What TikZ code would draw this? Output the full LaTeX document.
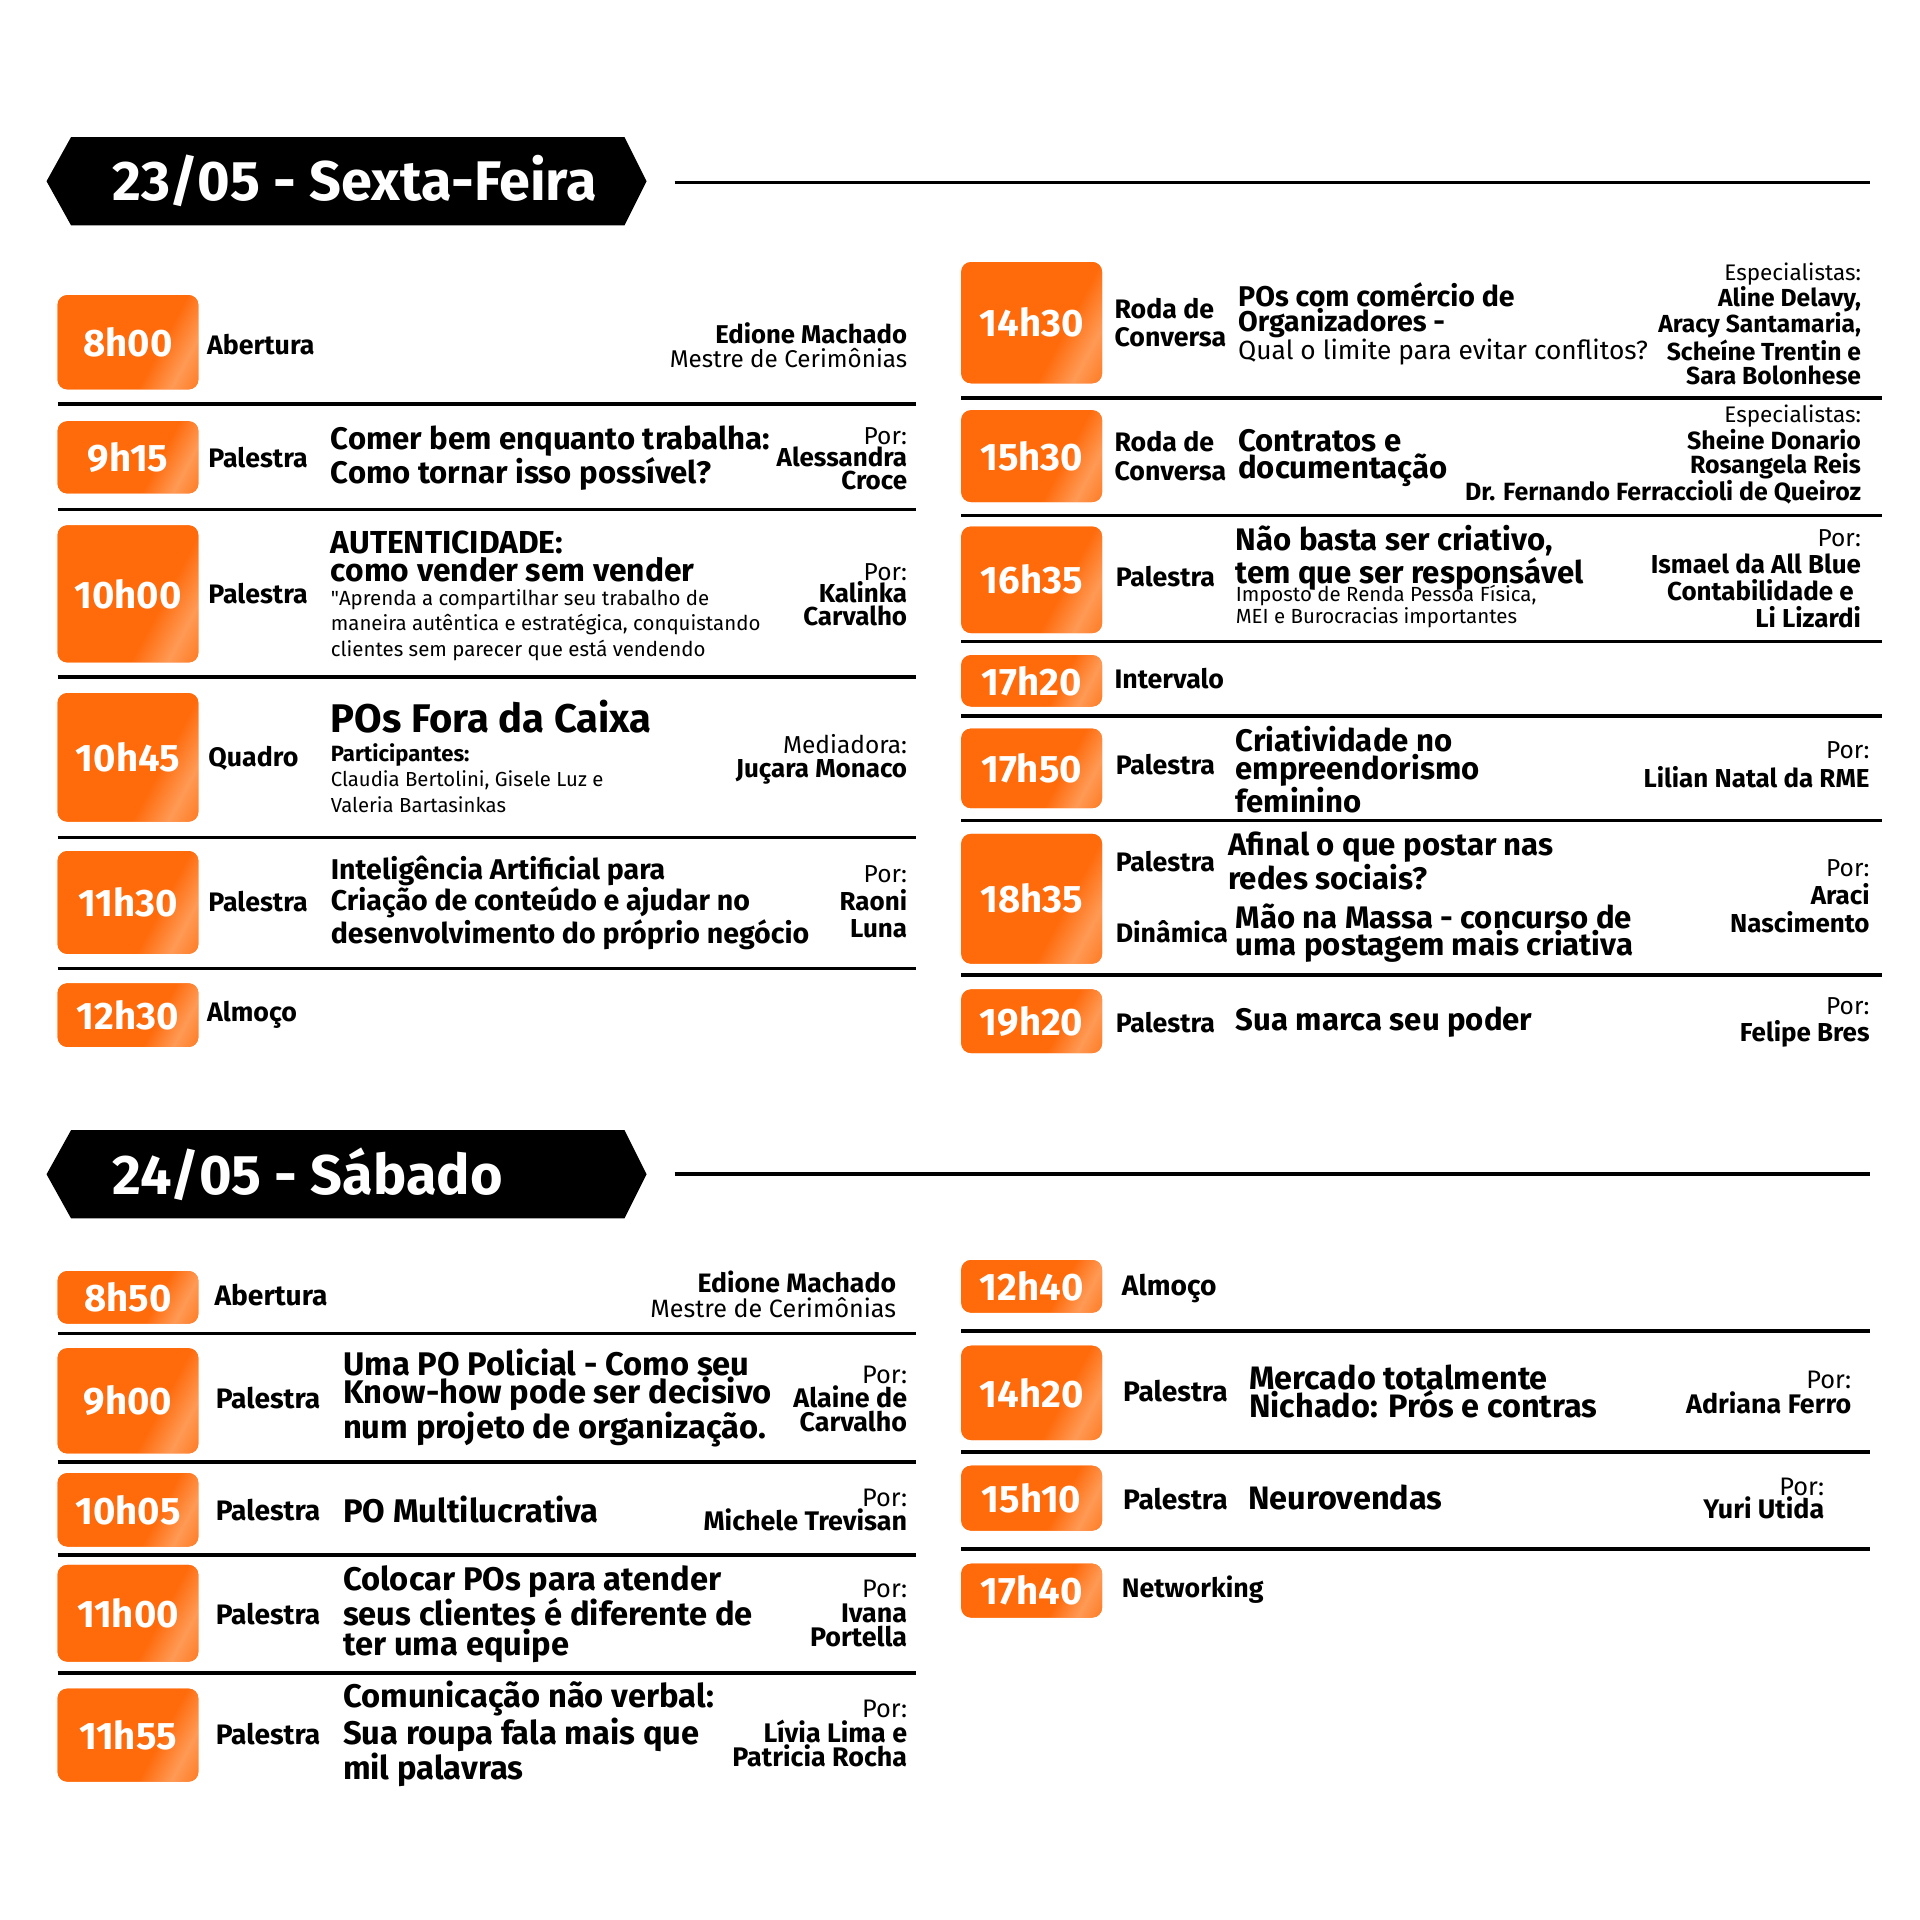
\documentclass[tikz,border=0pt]{standalone}
\usepackage{fontspec}
\setmainfont{Fira Sans}[BoldFeatures={Scale=1.06}]
\newfontfamily\plainfs{Fira Sans}
\definecolor{oA}{HTML}{FF6A0A}
\definecolor{oL}{HTML}{FF9A55}
\definecolor{oB}{HTML}{FF7418}
\pgfdeclarehorizontalshading{band}{100bp}{color(0bp)=(oA); color(62bp)=(oA); color(74bp)=(oL); color(86bp)=(oB); color(100bp)=(oB)}
\newcommand\tb[6]{\node[tbox, minimum width={#4-#2}, minimum height={#5-#3}] (#1) at ({(#2+#4)/2},{(#3+#5)/2}) {#6};}
\begin{document}
\begin{tikzpicture}[x=1pt,y=-1pt,
  tbox/.style={rounded corners=8pt, fill=oA, inner sep=0, text=white,
    font=\bfseries\fontsize{29.5}{29.5}\selectfont,
    path picture={\shade[shading=band, shading angle=-28] (path picture bounding box.south west) rectangle (path picture bounding box.north east);}},
  sep/.style={line width=3pt, black},
  lbl/.style={anchor=west, inner sep=0, align=left, font=\bfseries\fontsize{20.6}{23}\selectfont},
  lbs/.style={anchor=west, inner sep=0, align=left, font=\bfseries\fontsize{21.7}{23}\selectfont},
  ttl/.style={anchor=west, inner sep=0, align=left},
  nm/.style={anchor=east, inner sep=0, align=right},
  bantext/.style={anchor=west, inner sep=0, text=white, font=\bfseries\fontsize{43}{43}\selectfont}
]
\useasboundingbox (0,0) rectangle (1568,1568);
\fill[white] (0,0) rectangle (1568,1568);

% ---------- Friday banner ----------
\fill[black] (38,148) -- (58,112) -- (510,112) -- (528,148) -- (510,184) -- (58,184) -- cycle;
\node[bantext] (ban1) at (92,148) {23/05 - Sexta-Feira};
\draw[sep] (551,149) -- (1527,149);

% ---------- Friday left ----------
\tb{t1}{47}{241}{162}{318}{8h00}
\node[lbl] (l1) at (169,281) {Abertura};
\node[nm, font=\fontsize{19.8}{19}\selectfont] (n1) at (741,282) {\textbf{Edione Machado}\\Mestre de Cerimônias};
\draw[sep] (47,330) -- (748,330);

\tb{t2}{47}{344}{162}{403}{9h15}
\node[lbl] (l2) at (170,374) {Palestra};
\node[ttl, font=\bfseries\fontsize{24}{22}\selectfont] (h2) at (270,374) {Comer bem enquanto trabalha:\\Como tornar isso possível?};
\node[nm, font=\fontsize{20}{18.5}\selectfont] (n2) at (741,374.5) {Por:\\\textbf{Alessandra}\\\textbf{Croce}};
\draw[sep] (47,416) -- (748,416);

\tb{t3}{47}{429}{162}{541}{10h00}
\node[lbl] (l3) at (170,485) {Palestra};
\node[ttl, font=\bfseries\fontsize{24.5}{23}\selectfont] (h3) at (270,454.5) {AUTENTICIDADE:\\como vender sem vender};
\node[ttl, font=\fontsize{16.7}{20.5}\selectfont] (d3) at (270,510.5) {{\plainfs"}Aprenda a compartilhar seu trabalho de\\maneira autêntica e estratégica, conquistando\\clientes sem parecer que está vendendo};
\node[nm, font=\fontsize{20}{18.5}\selectfont] (n3) at (741,485.5) {Por:\\\textbf{Kalinka}\\\textbf{Carvalho}};
\draw[sep] (47,553) -- (748,553);

\tb{t4}{47}{566}{162}{671}{10h45}
\node[lbl] (l4) at (170,619) {Quadro};
\node[ttl, font=\bfseries\fontsize{30.8}{30}\selectfont] (h4) at (270,585) {POs Fora da Caixa};
\node[ttl, font=\fontsize{16.6}{20.5}\selectfont] (d4) at (270,635.5) {{\bfseries\fontsize{17}{20.5}\selectfont Participantes:}\\Claudia Bertolini, Gisele Luz e\\Valeria Bartasinkas};
\node[nm, font=\fontsize{20}{20}\selectfont] (n4) at (741,620) {Mediadora:\\\textbf{Juçara Monaco}};
\draw[sep] (47,684) -- (748,684);

\tb{t5}{47}{695}{162}{779}{11h30}
\node[lbl] (l5) at (170,736) {Palestra};
\node[ttl, font=\bfseries\fontsize{22}{24}\selectfont] (h5) at (270,737) {Inteligência Artificial para\\Criação de conteúdo e ajudar no\\desenvolvimento do próprio negócio};
\node[nm, font=\fontsize{20}{22.5}\selectfont] (n5) at (741,736.5) {Por:\\\textbf{Raoni}\\\textbf{Luna}};
\draw[sep] (47,791) -- (748,791);

\tb{t6}{47}{803}{162}{855}{12h30}
\node[lbl] (l6) at (169,829) {Almoço};

% ---------- Friday right ----------
\tb{t7}{785}{214}{900}{313}{14h30}
\node[lbl] (l7) at (910,263.5) {Roda de\\Conversa};
\node[ttl, font=\bfseries\fontsize{22}{20.5}\selectfont] (h7) at (1011,264.5) {POs com comércio de\\Organizadores -\\{\mdseries\fontsize{21.5}{20.5}\selectfont Qual o limite para evitar conflitos?}};
\node[nm, font=\fontsize{19}{20.2}\selectfont] (n7) at (1520,264.5) {{\fontsize{18.4}{20.2}\selectfont Especialistas:}\\\textbf{Aline Delavy,}\\\textbf{Aracy Santamaria,}\\\textbf{Scheíne Trentin e}\\\textbf{Sara Bolonhese}};
\draw[sep] (785,325) -- (1537,325);

\tb{t8}{785}{335}{900}{410}{15h30}
\node[lbl] (l8) at (910,372.5) {Roda de\\Conversa};
\node[ttl, font=\bfseries\fontsize{24}{22}\selectfont] (h8) at (1011,374) {Contratos e\\documentação};
\node[nm, font=\fontsize{19.2}{20.3}\selectfont] (n8) at (1520,371.5) {{\fontsize{18.4}{20.3}\selectfont Especialistas:}\\\textbf{Sheine Donario}\\\textbf{Rosangela Reis}\\\textbf{Dr. Fernando Ferraccioli de Queiroz}};
\draw[sep] (785,421) -- (1537,421);

\tb{t9}{785}{430}{900}{517}{16h35}
\node[lbl] (l9) at (911,471) {Palestra};
\node[ttl, font=\bfseries\fontsize{24}{22}\selectfont] (h9) at (1009,455.5) {Não basta ser criativo,\\tem que ser responsável};
\node[ttl, font=\fontsize{16.7}{16}\selectfont] (d9) at (1009,495.5) {Imposto de Renda Pessoa Física,\\MEI e Burocracias importantes};
\node[nm, font=\fontsize{20}{22}\selectfont] (n9) at (1520,473) {Por:\\\textbf{Ismael da All Blue}\\\textbf{Contabilidade e}\kern6pt\\\textbf{Li Lizardi}};
\draw[sep] (785,524) -- (1537,524);

\tb{t10}{785}{535}{900}{577}{17h20}
\node[lbl] (l10) at (910,554) {Intervalo};
\draw[sep] (785,585) -- (1537,585);

\tb{t11}{785}{595}{900}{660}{17h50}
\node[lbl] (l11) at (911,624) {Palestra};
\node[ttl, font=\bfseries\fontsize{24}{22.5}\selectfont] (h11) at (1009,628.5) {Criatividade no\\empreendorismo\\feminino};
\node[nm, font=\fontsize{20}{23}\selectfont] (n11) at (1527,624.5) {Por:\\\textbf{Lilian Natal da RME}};
\draw[sep] (785,670) -- (1537,670);

\tb{t12}{785}{681}{900}{787}{18h35}
\node[lbl] (l12a) at (911,704) {Palestra};
\node[lbl] (l12b) at (911,761) {Dinâmica};
\node[ttl, font=\bfseries\fontsize{24}{22}\selectfont] (h12a) at (1003,703) {Afinal o que postar nas\\redes sociais?};
\node[ttl, font=\bfseries\fontsize{24}{22}\selectfont] (h12b) at (1009,762) {Mão na Massa - concurso de\\uma postagem mais criativa};
\node[nm, font=\fontsize{20}{23}\selectfont] (n12) at (1527,732) {Por:\\\textbf{Araci}\\\textbf{Nascimento}};
\draw[sep] (785,796) -- (1537,796);

\tb{t13}{785}{808}{900}{860}{19h20}
\node[lbl] (l13) at (911,835) {Palestra};
\node[ttl, font=\bfseries\fontsize{24}{24}\selectfont] (h13) at (1009,835) {Sua marca seu poder};
\node[nm, font=\fontsize{20}{22}\selectfont] (n13) at (1527,835) {Por:\\\textbf{Felipe Bres}};

% ---------- Saturday banner ----------
\fill[black] (38,959) -- (58,923) -- (510,923) -- (528,959) -- (510,995) -- (58,995) -- cycle;
\node[bantext] (ban2) at (92,959) {24/05 - Sábado};
\draw[sep] (551,959) -- (1527,959);

% ---------- Saturday left ----------
\tb{s1}{47}{1038}{162}{1081}{8h50}
\node[lbs] (m1) at (175,1058) {Abertura};
\node[nm, font=\fontsize{20.5}{20}\selectfont] (p1) at (732,1057) {\textbf{Edione Machado}\\Mestre de Cerimônias};
\draw[sep] (47,1089) -- (748,1089);

\tb{s2}{47}{1101}{162}{1187}{9h00}
\node[lbs] (m2) at (176,1142) {Palestra};
\node[ttl, font=\bfseries\fontsize{25.2}{23}\selectfont] (g2) at (280,1142) {Uma PO Policial - Como seu\\Know-how pode ser decisivo\\num projeto de organização.};
\node[nm, font=\fontsize{20.7}{19.5}\selectfont] (p2) at (741,1142.5) {Por:\\\textbf{Alaine de}\\\textbf{Carvalho}};
\draw[sep] (47,1194) -- (748,1194);

\tb{s3}{47}{1203}{162}{1263}{10h05}
\node[lbs] (m3) at (176,1233) {Palestra};
\node[ttl, font=\bfseries\fontsize{25.2}{24}\selectfont] (g3) at (280,1233) {PO Multilucrativa};
\node[nm, font=\fontsize{20.7}{20}\selectfont] (p3) at (741,1233) {Por:\\\textbf{Michele Trevisan}};
\draw[sep] (47,1270) -- (748,1270);

\tb{s4}{47}{1278}{162}{1357}{11h00}
\node[lbs] (m4) at (176,1318) {Palestra};
\node[ttl, font=\bfseries\fontsize{25.2}{24}\selectfont] (g4) at (280,1318) {Colocar POs para atender\\seus clientes é diferente de\\ter uma equipe};
\node[nm, font=\fontsize{20.7}{20}\selectfont] (p4) at (741,1318) {Por:\\\textbf{Ivana}\\\textbf{Portella}};
\draw[sep] (47,1366) -- (748,1366);

\tb{s5}{47}{1379}{162}{1455}{11h55}
\node[lbs] (m5) at (176,1416) {Palestra};
\node[ttl, font=\bfseries\fontsize{25.2}{24}\selectfont] (g5) at (280,1416) {Comunicação não verbal:\\Sua roupa fala mais que\\mil palavras};
\node[nm, font=\fontsize{20.7}{20}\selectfont] (p5) at (741,1416) {Por:\\\textbf{Lívia Lima e}\\\textbf{Patricia Rocha}};

% ---------- Saturday right ----------
\tb{s6}{785}{1029}{900}{1072}{12h40}
\node[lbs] (m6) at (916,1052) {Almoço};
\draw[sep] (785,1087) -- (1527,1087);

\tb{s7}{785}{1099}{900}{1176}{14h20}
\node[lbs] (m7) at (917,1136) {Palestra};
\node[ttl, font=\bfseries\fontsize{25}{23}\selectfont] (g7) at (1020,1136.5) {Mercado totalmente\\Nichado: Prós e contras};
\node[nm, font=\fontsize{20.7}{20}\selectfont] (p7) at (1512,1137) {Por:\\\textbf{Adriana Ferro}};
\draw[sep] (785,1186) -- (1527,1186);

\tb{s8}{785}{1197}{900}{1250}{15h10}
\node[lbs] (m8) at (917,1224) {Palestra};
\node[ttl, font=\bfseries\fontsize{25}{24}\selectfont] (g8) at (1019,1223) {Neurovendas};
\node[nm, font=\fontsize{20.7}{19}\selectfont] (p8) at (1490,1223.5) {Por:\\\textbf{Yuri Utida}};
\draw[sep] (785,1265) -- (1527,1265);

\tb{s9}{785}{1277}{900}{1321}{17h40}
\node[lbl] (m9) at (916,1298) {Networking};
\end{tikzpicture}
\end{document}
